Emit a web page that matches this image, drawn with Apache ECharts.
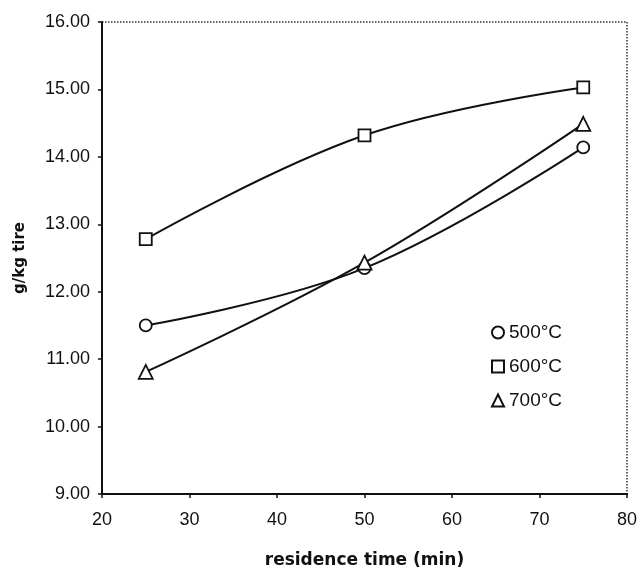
<!DOCTYPE html>
<html>
<head>
<meta charset="utf-8">
<script src="https://cdn.jsdelivr.net/npm/echarts@6/dist/echarts.min.js"></script>
<style>html,body{margin:0;padding:0;background:#fff}#c{width:639px;height:569px}</style>
</head>
<body>
<div id="c"></div>
<script>
var times = [25, 50, 75];
var s500 = [11.50, 12.35, 14.14];
var s600 = [12.78, 14.32, 15.03];
var s700 = [10.81, 12.43, 14.49];
var seriesNames = ['500°C', '600°C', '700°C'];
var symbols = ['circle', 'rect', 'triangle'];
var xTicks = [20, 30, 40, 50, 60, 70, 80];
var yTicks = [9, 10, 11, 12, 13, 14, 15, 16];

var font = '"Liberation Sans", Arial, sans-serif';
var boldFont = '"DejaVu Sans", sans-serif';
function pairs(v){ return times.map(function(t,i){ return [t, v[i]]; }); }
var allVals = [s500, s600, s700];
var chart = echarts.init(document.getElementById('c'));
chart.setOption({
  animation: false,
  backgroundColor: '#fff',
  grid: { left: 102, right: 12, top: 22, bottom: 75, outerBoundsMode: 'none', containLabel: false, show: true, borderColor: '#333', borderWidth: 1.5, borderType: 'dotted', backgroundColor: 'transparent' },
  legend: {
    orient: 'vertical', left: 486, top: 318, itemGap: 15, itemWidth: 12, itemHeight: 12,
    textStyle: { fontFamily: font, fontSize: 19, color: '#111' },
    data: seriesNames.map(function(n,i){ return { name: n, icon: symbols[i] }; })
  },
  xAxis: {
    type: 'value', min: xTicks[0], max: xTicks[xTicks.length-1], interval: 10,
    name: 'residence time (min)', nameLocation: 'middle', nameGap: 58,
    nameTextStyle: { fontFamily: boldFont, fontSize: 17, fontWeight: 'bold', color: '#111' },
    axisLine: { lineStyle: { color: '#111', width: 2 } },
    axisTick: { show: true, length: 4, lineStyle: { color: '#111', width: 1.5 } },
    axisLabel: { fontFamily: font, fontSize: 18, color: '#111', margin: 17 },
    splitLine: { show: false }
  },
  yAxis: {
    type: 'value', min: yTicks[0], max: yTicks[yTicks.length-1], interval: 1,
    name: 'g/kg tire', nameLocation: 'middle', nameGap: 74,
    nameTextStyle: { fontFamily: boldFont, fontSize: 15, fontWeight: 'bold', color: '#111' },
    axisLine: { lineStyle: { color: '#111', width: 2 } },
    axisTick: { show: true, length: 4, lineStyle: { color: '#111', width: 1.5 } },
    axisLabel: { fontFamily: font, fontSize: 18, color: '#111', margin: 12, formatter: function(v){ return v.toFixed(2); } },
    splitLine: { show: false }
  },
  series: seriesNames.map(function(n,i){
    return {
      name: n, type: 'line', smooth: 0.4, data: pairs(allVals[i]),
      symbol: symbols[i], symbolSize: symbols[i]==='triangle' ? 14 : 12,
      lineStyle: { color: '#111', width: 2 },
      itemStyle: { color: '#fff', borderColor: '#111', borderWidth: 1.8 },
      z: 3
    };
  })
});
</script>
</body>
</html>
